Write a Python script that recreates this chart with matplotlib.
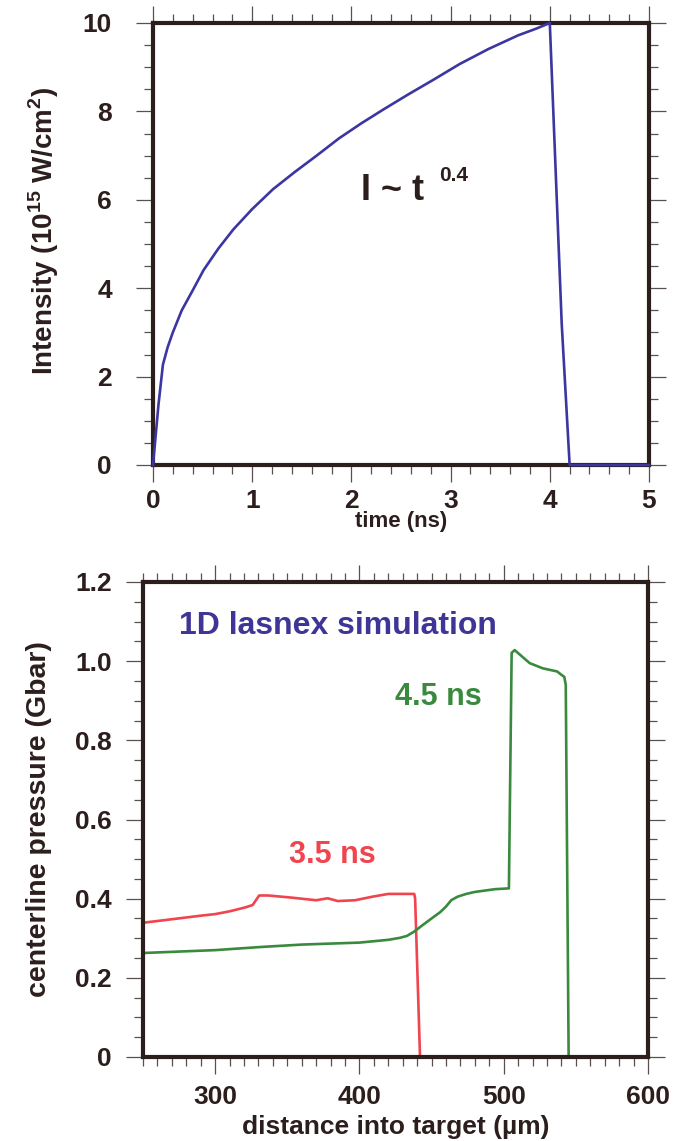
import numpy as np
import matplotlib.pyplot as plt
from matplotlib.ticker import MultipleLocator, FuncFormatter

plt.rcParams['font.family'] = ['Liberation Sans', 'DejaVu Sans']
plt.rcParams['font.weight'] = 'bold'
plt.rcParams['axes.labelweight'] = 'bold'
plt.rcParams['mathtext.fontset'] = 'custom'
plt.rcParams['mathtext.rm'] = 'Liberation Sans:bold'
plt.rcParams['mathtext.bf'] = 'Liberation Sans:bold'

# Intensité laser (haut)
t_ns = [0, 0.055, 0.1, 0.147, 0.2, 0.29, 0.4, 0.51, 0.66, 0.81, 1.0, 1.21,
        1.43, 1.65, 1.875, 2.1, 2.32, 2.57, 2.83, 3.09, 3.38, 3.68, 3.86, 4.0,
        4.12, 4.2, 5.0]
intensity = [0, 1.36, 2.27, 2.66, 3.0, 3.5, 3.95, 4.41, 4.9, 5.33, 5.79, 6.24,
             6.63, 7.0, 7.39, 7.73, 8.04, 8.38, 8.72, 9.07, 9.41, 9.72, 9.87,
             10.0, 3.2, 0, 0]

# Pression au centre (bas)
x_35 = [252, 270, 290, 300, 310, 321, 326, 330.5, 337, 352, 370, 378, 385, 397,
        409, 420, 438, 438.6, 442]
p_35 = [0.340, 0.348, 0.357, 0.361, 0.368, 0.378, 0.384, 0.408, 0.408, 0.403,
        0.396, 0.401, 0.394, 0.396, 0.405, 0.412, 0.412, 0.40, 0.0]

x_45 = [252, 300, 332, 360, 400, 420, 428, 433, 438, 443, 450, 456, 460, 463.6,
        468, 474, 480, 486, 494, 503.6, 505.5, 507.6, 512, 518, 527, 537, 542,
        543, 545]
p_45 = [0.263, 0.270, 0.278, 0.284, 0.289, 0.296, 0.301, 0.306, 0.317, 0.331,
        0.350, 0.366, 0.380, 0.396, 0.405, 0.412, 0.417, 0.420, 0.424, 0.426,
        1.021, 1.028, 1.014, 0.995, 0.982, 0.974, 0.960, 0.94, 0.0]

dark = '#2d1e1e'
tickc = '#5a5050'

fig = plt.figure(figsize=(6.76, 11.41), dpi=100)
ax1 = fig.add_axes([153/676, 1 - 465/1141, 496/676, 442/1141])
ax2 = fig.add_axes([143/676, 1 - 1057/1141, 505/676, 475/1141])


def style(ax, xpad, ypad):
    for s in ax.spines.values():
        s.set_linewidth(3)
        s.set_color(dark)
        s.set_zorder(5)
    ax.tick_params(which='both', direction='out', top=True, right=True,
                   color=tickc, width=0.9, labelsize=19, labelcolor=dark)
    ax.tick_params(which='major', length=12.5)
    ax.tick_params(which='minor', length=6.5)
    ax.tick_params(axis='x', which='major', pad=xpad)
    ax.tick_params(axis='y', which='major', pad=ypad)
    ax.tick_params(axis='y', which='both', labelright=False)


# Graphe du haut
ax1.plot(t_ns, intensity, color='#3b36a0', lw=1.9, zorder=6, clip_on=False)
ax1.set_xlim(0, 5)
ax1.set_ylim(0, 10)
ax1.xaxis.set_major_locator(MultipleLocator(1))
ax1.xaxis.set_minor_locator(MultipleLocator(0.2))
ax1.yaxis.set_major_locator(MultipleLocator(2))
ax1.yaxis.set_minor_locator(MultipleLocator(0.5))
style(ax1, 5, 17)
ax1.set_xlabel('time (ns)', fontsize=16, color=dark)
ax1.xaxis.set_label_coords(0.5, -0.105)
ax1.set_ylabel(r'Intensity (10$^{15}$ W/cm$^{2}$)', fontsize=20, color=dark)
ax1.yaxis.set_label_coords(-0.185, 0.53)
ax1.text(2.1, 6.0, 'I ~ t', fontsize=26, color=dark, ha='left', va='baseline')
ax1.text(2.88, 6.42, '0.4', fontsize=15, color=dark, ha='left', va='baseline')

# Graphe du bas
ax2.plot(x_35, p_35, color='#f0444e', lw=1.9)
ax2.plot(x_45, p_45, color='#3a8a3e', lw=1.9)
ax2.set_xlim(250, 600)
ax2.set_ylim(0, 1.2)
ax2.xaxis.set_major_locator(MultipleLocator(100))
ax2.xaxis.set_minor_locator(MultipleLocator(10))
ax2.yaxis.set_major_locator(MultipleLocator(0.2))
ax2.yaxis.set_minor_locator(MultipleLocator(0.05))
ax2.yaxis.set_major_formatter(FuncFormatter(lambda v, p: '0' if abs(v) < 1e-9 else f'{v:.1f}'))
style(ax2, 8, 10)
ax2.set_xlabel('distance into target (\u00b5m)', fontsize=19, color=dark)
ax2.xaxis.set_label_coords(0.5, -0.122)
ax2.set_ylabel('centerline pressure (Gbar)', fontsize=20.5, color=dark)
ax2.yaxis.set_label_coords(-0.18, 0.5)
ax2.text(275, 1.09, '1D lasnex simulation', fontsize=23, color='#3e3596',
         ha='left', va='center')
ax2.text(425, 0.91, '4.5 ns', fontsize=22, color='#3a8a3e', ha='left', va='center')
ax2.text(351, 0.51, '3.5 ns', fontsize=22, color='#f0444e', ha='left', va='center')

fig.savefig('out.png', dpi=100)
